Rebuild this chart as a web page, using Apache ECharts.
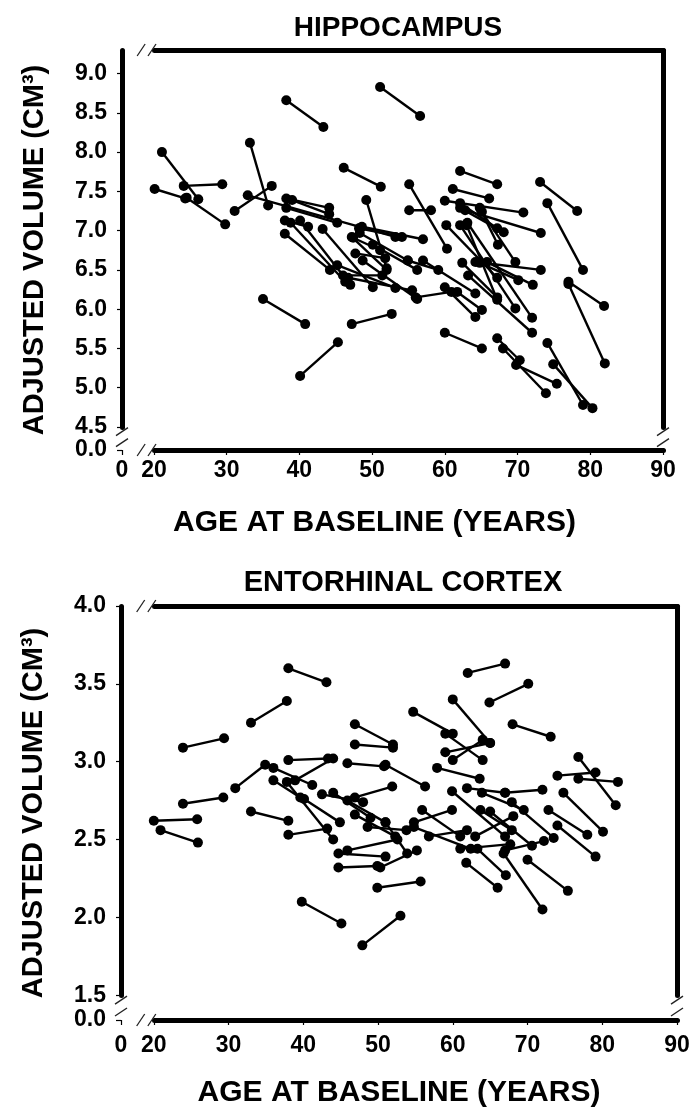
<!DOCTYPE html>
<html><head><meta charset="utf-8">
<script src="https://cdn.jsdelivr.net/npm/echarts@6/dist/echarts.min.js"></script>
<style>html,body{margin:0;padding:0;background:#fff}#c{width:698px;height:1120px}</style>
</head><body><div id="c"></div>
<script>
// [ageBaseline, volumeBaseline, ageFollowUp, volumeFollowUp]
const hippoSegments = [
[20.1,7.53,24.3,7.41],[21.1,8.00,26.1,7.40],[24.1,7.57,29.4,7.59],[24.5,7.42,29.8,7.08],
[31.1,7.25,36.2,7.57],[33.2,8.12,35.7,7.32],[32.9,7.45,53.2,6.92],[35.0,6.13,40.8,5.81],
[40.1,5.15,45.3,5.58],[47.2,5.81,52.7,5.94],[38.2,8.66,43.3,8.32],[51.1,8.83,56.6,8.46],
[46.1,7.80,51.2,7.56],[62.1,7.76,67.2,7.59],[61.1,7.53,66.1,7.41],[73.1,7.62,78.2,7.25],
[74.1,7.35,79.0,6.50],[77.0,6.35,81.9,6.04],[77.0,6.32,82.0,5.31],[38.2,7.41,44.1,7.29],
[39.0,7.39,44.1,7.21],[38.2,7.29,45.2,7.10],[38.0,7.13,41.2,7.05],[38.0,6.96,44.2,6.50],
[38.8,7.10,46.3,6.35],[40.1,7.13,47.0,6.31],[43.2,7.02,50.1,6.28],[45.2,6.56,53.2,6.27],
[46.0,6.43,51.4,6.43],[46.7,6.40,55.5,6.24],[47.2,6.92,52.0,6.50],[48.2,7.03,54.1,6.92],
[48.3,6.97,54.9,6.62],[47.4,6.91,51.1,6.75],[48.6,7.05,57.0,6.89],[50.1,6.82,56.2,6.50],
[47.7,6.71,51.8,6.65],[48.7,6.62,56.2,6.13],[49.2,7.39,52.0,6.52],[55.1,7.59,60.3,6.77],
[55.1,7.26,58.1,7.26],[60.0,7.38,70.8,7.23],[60.2,7.07,67.2,6.40],[62.1,7.07,69.7,6.01],
[63.1,7.10,72.0,5.89],[62.1,7.35,67.2,7.03],[62.1,7.29,68.1,6.98],[62.8,7.26,73.2,6.97],
[64.8,7.29,67.3,6.82],[65.1,7.24,69.7,6.60],[62.4,6.59,67.2,6.15],[63.2,6.43,72.0,5.70],
[64.2,6.60,73.2,6.50],[64.8,6.59,70.1,6.37],[57.0,6.62,64.2,6.20],[54.9,6.62,59.1,6.50],
[60.0,6.28,64.2,5.90],[61.7,6.22,65.1,5.99],[68.0,5.50,73.9,4.93],[69.8,5.29,75.4,5.05],
[74.1,5.57,79.0,4.78],[74.9,5.30,80.3,4.74],[60.0,5.70,65.1,5.50],[67.2,5.63,70.3,5.35],
[65.8,6.60,72.1,6.31],[63.0,7.07,67.2,6.12],[56.0,6.15,60.9,6.22]
];
const entoSegments = [
[20.0,2.62,25.8,2.63],[20.9,2.56,25.9,2.48],[23.9,2.73,29.3,2.77],[23.9,3.09,29.4,3.15],
[30.9,2.83,34.9,2.98],[36.0,2.96,41.2,2.85],[33.0,3.25,37.8,3.39],[38.0,3.60,43.1,3.51],
[38.0,3.01,43.3,3.02],[33.0,2.68,38.0,2.62],[36.0,2.88,39.6,2.77],[37.8,2.87,44.0,2.50],
[38.9,2.88,44.0,3.02],[38.0,2.53,43.2,2.57],[39.8,2.10,45.1,1.96],[47.9,1.82,53.0,2.01],
[49.9,2.19,55.7,2.23],[44.7,2.32,49.9,2.33],[44.7,2.41,51.0,2.39],[45.9,2.43,52.6,2.50],
[46.9,3.24,52.0,3.11],[46.9,3.11,52.0,3.09],[45.9,2.99,50.8,2.97],[42.5,2.79,48.0,2.74],
[46.9,2.77,51.9,2.84],[44.0,2.80,49.0,2.64],[40.1,2.76,44.9,2.61],[45.9,2.75,51.0,2.61],
[46.9,2.66,52.3,2.52],[48.6,2.58,53.8,2.56],[51.0,2.98,56.3,2.84],[57.9,2.96,63.6,2.89],
[60.0,3.40,65.0,3.12],[54.7,3.32,60.0,3.18],[62.0,3.57,67.0,3.63],[64.9,3.38,70.1,3.50],
[68.0,3.24,73.1,3.16],[59.0,3.06,65.0,3.12],[60.0,3.01,64.0,3.14],[59.0,3.18,64.0,3.01],
[74.0,2.91,79.1,2.93],[76.8,2.89,82.1,2.87],[76.8,3.03,81.8,2.72],[74.8,2.80,80.1,2.55],
[72.8,2.69,78.0,2.53],[74.0,2.59,79.1,2.39],[70.0,2.37,75.4,2.17],[66.8,2.41,72.0,2.05],
[61.8,2.35,66.0,2.19],[63.3,2.44,67.1,2.27],[55.9,2.69,61.0,2.52],[54.8,2.61,59.9,2.69],
[54.8,2.58,62.4,2.44],[56.8,2.52,61.9,2.56],[59.9,2.81,67.0,2.52],[61.9,2.83,67.0,2.80],
[63.9,2.80,69.5,2.69],[63.7,2.69,67.9,2.56],[65.0,2.68,70.6,2.46],[61.0,2.44,67.7,2.47],
[63.0,2.52,68.1,2.65],[67.0,2.43,72.2,2.49],[67.9,2.74,73.5,2.51],[67.0,2.80,72.0,2.82],
[50.3,2.32,55.2,2.43],[51.0,2.61,53.9,2.41]
];
const panelTitles = ['HIPPOCAMPUS', 'ENTORHINAL CORTEX'];
const xTitle = 'AGE AT BASELINE (YEARS)';
const yTitle = 'ADJUSTED VOLUME (CM\u00B3)';
const xRange = [0, 90, 10];          // min, max, interval
const xBreak = [0, 20];
const hippoYRange = [0, 9.3, 0.5];
const hippoYBreak = [0, 4.5];
const entoYRange = [0, 4.0, 0.5];
const entoYBreak = [0, 1.5];

const FONT = '"Liberation Sans", Arial, Helvetica, sans-serif';
const chart = echarts.init(document.getElementById('c'), null, {renderer: 'canvas'});

const grids = [
  {left: 122, top: 50, width: 541, height: 400},
  {left: 121, top: 606, width: 556, height: 414}
];
const breakArea = {show: false, expandOnClick: false};

function xAxisFor(g, main, gapPct) {
  return {
    gridIndex: g, type: 'value', position: main ? 'bottom' : 'top',
    min: xRange[0], max: xRange[1], interval: xRange[2],
    breaks: [{start: xBreak[0], end: xBreak[1], gap: gapPct}],
    breakArea: breakArea,
    axisLine: {show: true, onZero: false, lineStyle: {color: '#000', width: 5}},
    axisTick: {show: main, inside: false, length: 5, lineStyle: {color: '#000', width: 1.2}},
    axisLabel: {show: main, color: '#000', fontSize: 23, fontWeight: 'bold', fontFamily: FONT, margin: g === 0 ? 9 : 14},
    splitLine: {show: false},
    name: main ? xTitle : '', nameLocation: 'middle', nameGap: 58,
    nameTextStyle: {color: '#000', fontSize: 30, fontWeight: 'bold', fontFamily: FONT,
      padding: g === 0 ? [0, 36, 0, 0] : [0, 0, 0, 0]}
  };
}
function yAxisFor(g, main, range, brk, gapPct) {
  return {
    gridIndex: g, type: 'value', position: main ? 'left' : 'right',
    min: range[0], max: range[1], interval: range[2],
    breaks: [{start: brk[0], end: brk[1], gap: gapPct}],
    breakArea: breakArea,
    axisLine: {show: true, onZero: false, lineStyle: {color: '#000', width: 5}},
    axisTick: {show: main, inside: false, length: 5, lineStyle: {color: '#000', width: 1.2}},
    axisLabel: {show: main, color: '#000', fontSize: 23, fontWeight: 'bold', fontFamily: FONT, margin: 15,
      showMaxLabel: g === 1, formatter: v => Number(v).toFixed(1)},
    splitLine: {show: false},
    name: main ? yTitle : '', nameLocation: 'middle', nameGap: 73,
    nameTextStyle: {color: '#000', fontSize: 29, fontWeight: 'bold', fontFamily: FONT}
  };
}

function segSeries(segs, xi, yi) {
  return segs.map(s => ({
    type: 'line', xAxisIndex: xi, yAxisIndex: yi,
    data: [[s[0], s[1]], [s[2], s[3]]],
    symbol: 'circle', symbolSize: 10, showSymbol: true,
    lineStyle: {color: '#000', width: 2.4}, itemStyle: {color: '#000'},
    silent: true, animation: false, z: 3
  }));
}

const option = {
  backgroundColor: '#fff',
  animation: false,
  title: [
    {text: panelTitles[0], left: 393, top: 9, textAlign: 'center',
     textStyle: {color: '#000', fontSize: 28, fontWeight: 'bold', fontFamily: FONT}},
    {text: panelTitles[1], left: 398, top: 563, textAlign: 'center',
     textStyle: {color: '#000', fontSize: 29, fontWeight: 'bold', fontFamily: FONT}}
  ],
  grid: grids,
  xAxis: [xAxisFor(0, true, '5.9%'), xAxisFor(0, false, '5.9%'), xAxisFor(1, true, '5.9%'), xAxisFor(1, false, '5.9%')],
  yAxis: [yAxisFor(0, true, hippoYRange, hippoYBreak, '5.75%'), yAxisFor(0, false, hippoYRange, hippoYBreak, '5.75%'),
          yAxisFor(1, true, entoYRange, entoYBreak, '6%'), yAxisFor(1, false, entoYRange, entoYBreak, '6%')],
  series: [].concat(segSeries(hippoSegments, 0, 0), segSeries(entoSegments, 2, 2))
};
chart.setOption(option);

// break marks ("//") on the frame, placed from the axes' own pixel mapping
function breakMarks(g, xi, yi, yb) {
  const rect = grids[g];
  const top = rect.top, bottom = rect.top + rect.height;
  const left = rect.left, right = rect.left + rect.width;
  const xa = chart.convertToPixel({xAxisIndex: xi}, xBreak[0]);
  const xb = chart.convertToPixel({xAxisIndex: xi}, xBreak[1]);
  const ya = chart.convertToPixel({yAxisIndex: yi}, yb[1]);
  const yz = chart.convertToPixel({yAxisIndex: yi}, yb[0]);
  const gx0 = xa + 0.6 * (xb - xa), gx1 = xa + 0.94 * (xb - xa);
  const gy0 = ya + 0.2 * (yz - ya), gy1 = ya + 0.68 * (yz - ya);
  const els = [];
  const slash = {stroke: '#222', lineWidth: 1.3};
  [top, bottom].forEach(y => {
    els.push({type: 'rect', shape: {x: gx0, y: y - 5, width: gx1 - gx0, height: 10}, style: {fill: '#fff'}, z: 100});
    [gx0, gx1].forEach(x => els.push({type: 'line', shape: {x1: x - 4, y1: y + 6, x2: x + 4, y2: y - 6}, style: slash, z: 101}));
  });
  [left, right].forEach(x => {
    els.push({type: 'rect', shape: {x: x - 5, y: gy0, width: 10, height: gy1 - gy0}, style: {fill: '#fff'}, z: 100});
    [gy0, gy1].forEach(y => els.push({type: 'line', shape: {x1: x - 6, y1: y + 4, x2: x + 6, y2: y - 4}, style: slash, z: 101}));
  });
  return els;
}
chart.setOption({graphic: [].concat(breakMarks(0, 0, 0, hippoYBreak), breakMarks(1, 2, 2, entoYBreak))});
</script></body></html>
